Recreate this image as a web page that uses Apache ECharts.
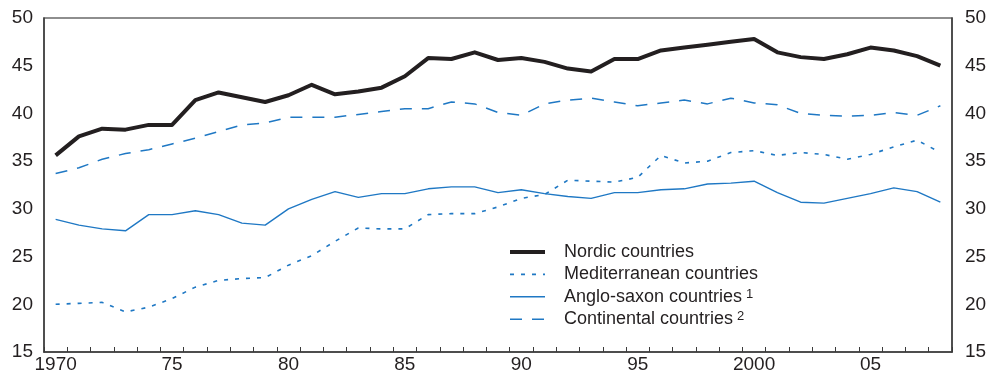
<!DOCTYPE html>
<html>
<head>
<meta charset="utf-8">
<script src="https://cdn.jsdelivr.net/npm/echarts@6/dist/echarts.min.js"></script>
<style>
  html, body { margin: 0; padding: 0; background: #fff; }
  #chart { width: 991px; height: 374px; }
</style>
</head>
<body>
<div id="chart"></div>
<script>
// Years 1970–2008
const years = [];
for (let y = 1970; y <= 2008; y++) years.push(String(y));

// Axis label for each year (every fifth year is labelled)
const yearLabels = {
  '1970': '1970', '1975': '75', '1980': '80', '1985': '85',
  '1990': '90', '1995': '95', '2000': '2000', '2005': '05'
};

const seriesNames = ['Nordic countries', 'Mediterranean countries', 'Anglo-saxon countries', 'Continental countries'];
const seriesNotes = ['', '', '1', '2'];

const nordic = [35.6, 37.6, 38.4, 38.3, 38.8, 38.8, 41.4, 42.2, 41.7, 41.2, 41.9,
  43.0, 42.0, 42.3, 42.7, 43.9, 45.8, 45.7, 46.4, 45.6, 45.8, 45.4, 44.7, 44.4, 45.7,
  45.7, 46.6, 46.9, 47.2, 47.5, 47.8, 46.4, 45.9, 45.7, 46.2, 46.9, 46.6, 46.0, 45.0];

const mediterranean = [20.0, 20.1, 20.2, 19.2, 19.7, 20.6, 21.8, 22.5, 22.7, 22.8, 24.1,
  25.1, 26.6, 28.0, 27.9, 27.9, 29.4, 29.5, 29.5, 30.2, 31.1, 31.5, 33.0, 32.9, 32.8,
  33.3, 35.6, 34.8, 35.0, 35.9, 36.1, 35.6, 35.9, 35.7, 35.2, 35.7, 36.5, 37.2, 35.9];

const angloSaxon = [28.9, 28.3, 27.9, 27.7, 29.4, 29.4, 29.8, 29.4, 28.5, 28.3, 30.0,
  31.0, 31.8, 31.2, 31.6, 31.6, 32.1, 32.3, 32.3, 31.7, 32.0, 31.6, 31.3, 31.1, 31.7,
  31.7, 32.0, 32.1, 32.6, 32.7, 32.9, 31.7, 30.7, 30.6, 31.1, 31.6, 32.2, 31.8, 30.7];

const continental = [33.7, 34.3, 35.2, 35.8, 36.2, 36.8, 37.4, 38.1, 38.8, 39.0, 39.6,
  39.6, 39.6, 39.9, 40.2, 40.5, 40.5, 41.2, 41.0, 40.1, 39.8, 41.0, 41.4, 41.6, 41.2,
  40.8, 41.1, 41.4, 41.0, 41.6, 41.1, 40.9, 40.0, 39.8, 39.7, 39.8, 40.1, 39.8, 40.8];

const yMin = 15, yMax = 50, yStep = 5;

const ink = '#231f20';
const blue = '#1f78c4';
const font = 'Liberation Sans, Arial, Helvetica, sans-serif';

const chart = echarts.init(document.getElementById('chart'));

const valueAxis = (pos, margin) => ({
  type: 'value',
  position: pos,
  min: yMin, max: yMax, interval: yStep,
  axisLine: { show: true, lineStyle: { color: '#3a3a3a', width: 1.5 } },
  axisTick: { show: false },
  splitLine: { show: false },
  axisLabel: { color: ink, fontSize: 19, fontFamily: font, margin: margin }
});

chart.setOption({
  animation: false,
  grid: {
    left: 44, right: 39, top: 18, bottom: 22,
    show: true, borderColor: '#6a6a6a', borderWidth: 1.5, backgroundColor: 'transparent'
  },
  legend: {
    orient: 'vertical',
    left: 508, top: 243,
    padding: 0,
    itemWidth: 35, itemHeight: 18, itemGap: 4.4,
    data: seriesNames,
    // keep only the line sample, no symbol
    itemStyle: { opacity: 0 },
    lineStyle: { width: 'inherit' },
    formatter: name => {
      const note = seriesNotes[seriesNames.indexOf(name)];
      return note ? '{t|' + name + '}{s|' + note + '}' : '{t|' + name + '}';
    },
    textStyle: {
      color: ink, fontFamily: font, fontSize: 18, lineHeight: 18, padding: [0, 0, 0, 14],
      rich: {
        t: { fontSize: 18, lineHeight: 18, fontFamily: font, color: ink },
        s: { fontSize: 13, lineHeight: 10, verticalAlign: 'top', fontFamily: font, color: ink, padding: [0, 0, 0, 4] }
      }
    }
  },
  xAxis: {
    type: 'category',
    data: years,
    boundaryGap: true,
    axisLine: { lineStyle: { color: '#3a3a3a', width: 1.5 } },
    axisTick: { show: true, inside: true, length: 5, interval: 0, lineStyle: { color: '#3a3a3a', width: 1 } },
    axisLabel: {
      interval: 0, color: ink, fontSize: 19, fontFamily: font, margin: 3,
      formatter: v => yearLabels[v] || ''
    },
    splitLine: { show: false }
  },
  yAxis: [valueAxis('left', 11), valueAxis('right', 13)],
  series: [
    {
      name: seriesNames[0], type: 'line', data: nordic, symbol: 'none',
      lineStyle: { color: ink, width: 4, join: 'round' }, itemStyle: { color: ink }, z: 5
    },
    {
      name: seriesNames[1], type: 'line', data: mediterranean, symbol: 'none',
      lineStyle: { color: blue, width: 1.6, type: [4, 7] }, itemStyle: { color: blue }
    },
    {
      name: seriesNames[2], type: 'line', data: angloSaxon, symbol: 'none',
      lineStyle: { color: blue, width: 1.4 }, itemStyle: { color: blue }
    },
    {
      name: seriesNames[3], type: 'line', data: continental, symbol: 'none',
      lineStyle: { color: blue, width: 1.5, type: [12, 10] }, itemStyle: { color: blue }
    }
  ]
});
</script>
</body>
</html>
